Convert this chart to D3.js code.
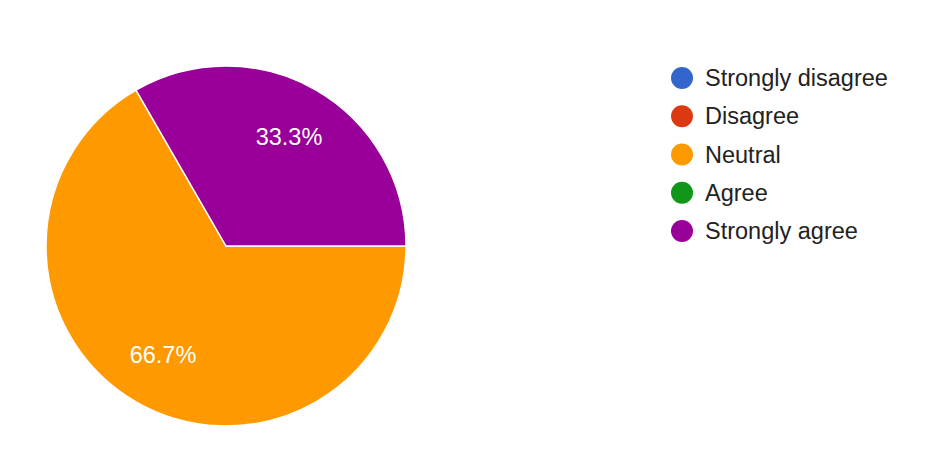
<!DOCTYPE html>
<html>
<head>
<meta charset="utf-8">
<script src="https://cdn.jsdelivr.net/npm/d3@7"></script>
<style>
  body { margin: 0; background: #fff; }
  svg { display: block; font-family: Arial, "Liberation Sans", sans-serif; }
</style>
</head>
<body>
<svg id="chart" width="938" height="466"></svg>
<script>
var categories = ['Strongly disagree', 'Disagree', 'Neutral', 'Agree', 'Strongly agree'];
var values = [0, 0, 2, 0, 1];
var colors = ['#3366cc', '#dc3912', '#ff9900', '#109618', '#990099'];

var svg = d3.select('#chart'),
    cx = 226, cy = 246, radius = 180;

var color = d3.scaleOrdinal().domain(categories).range(colors);

var data = categories.map(function(c, i) { return {name: c, value: values[i]}; });
var total = d3.sum(values);

// slices start at 3 o'clock and run clockwise
var pie = d3.pie()
  .sort(null)
  .value(function(d) { return d.value; })
  .startAngle(Math.PI / 2)
  .endAngle(Math.PI / 2 + 2 * Math.PI);

var arc = d3.arc().innerRadius(0).outerRadius(radius);
var labelArc = d3.arc().innerRadius(radius * 0.7).outerRadius(radius * 0.7);

var g = svg.append('g').attr('transform', 'translate(' + cx + ',' + cy + ')');

var arcs = pie(data).filter(function(d) { return d.value > 0; });

g.selectAll('path')
  .data(arcs)
  .enter().append('path')
    .attr('d', arc)
    .style('fill', function(d) { return color(d.data.name); })
    .style('stroke', '#fff')
    .style('stroke-width', 1.5);

g.selectAll('text')
  .data(arcs)
  .enter().append('text')
    .attr('transform', function(d) { return 'translate(' + labelArc.centroid(d) + ')'; })
    .attr('text-anchor', 'middle')
    .attr('dy', '0.35em')
    .style('fill', '#fff')
    .style('font-size', '23.5px')
    .text(function(d) { return d3.format('.1%')(d.value / total); });

// Legend
var legendY = d3.scalePoint().domain(categories).range([78, 231]);

var legend = svg.append('g').selectAll('g')
  .data(categories)
  .enter().append('g')
    .attr('transform', function(d) { return 'translate(682,' + legendY(d) + ')'; });

legend.append('circle')
  .attr('r', 11)
  .style('fill', function(d) { return color(d); });

legend.append('text')
  .attr('x', 23)
  .attr('dy', '0.35em')
  .style('fill', '#222')
  .style('font-size', '23.5px')
  .text(function(d) { return d; });
</script>
</body>
</html>
